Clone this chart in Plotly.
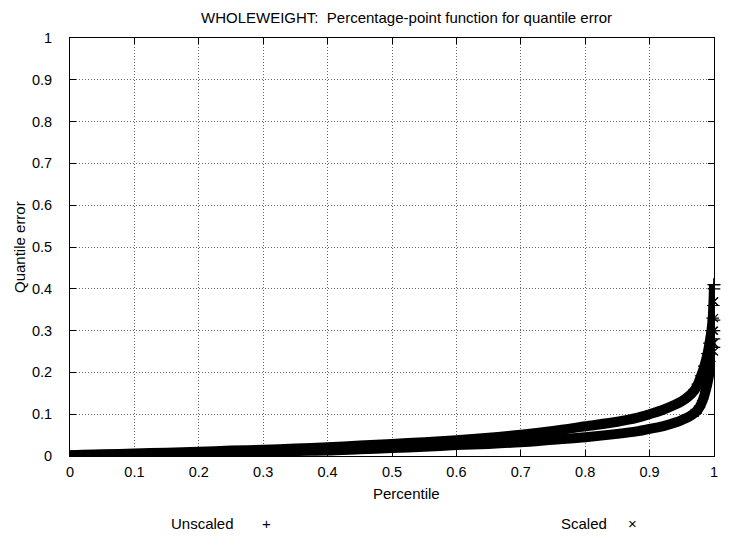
import plotly.graph_objects as go

# Percentile positions (x) shared by both series
pct = [0.0, 0.02, 0.05, 0.1, 0.15, 0.2, 0.25, 0.3, 0.35, 0.4, 0.45, 0.5, 0.55,
       0.6, 0.65, 0.7, 0.75, 0.8, 0.85, 0.88, 0.9, 0.92, 0.94, 0.95, 0.96,
       0.97, 0.975, 0.98, 0.985, 0.99, 0.993, 0.996, 0.998, 0.999, 1.0]

# Quantile error, Unscaled (upper curve)
unscaled = [0.002, 0.003, 0.004, 0.006, 0.008, 0.010, 0.013, 0.015, 0.018, 0.021,
            0.025, 0.029, 0.033, 0.038, 0.044, 0.051, 0.060, 0.071, 0.082, 0.091,
            0.100, 0.110, 0.123, 0.131, 0.142, 0.158, 0.172, 0.192, 0.215, 0.245,
            0.27, 0.30, 0.33, 0.36, 0.41]

# Quantile error, Scaled (lower curve)
scaled = [0.001, 0.001, 0.002, 0.003, 0.005, 0.006, 0.008, 0.010, 0.012, 0.013,
          0.016, 0.019, 0.022, 0.026, 0.029, 0.033, 0.039, 0.045, 0.053, 0.059,
          0.065, 0.071, 0.080, 0.086, 0.093, 0.103, 0.111, 0.124, 0.145, 0.175,
          0.20, 0.235, 0.27, 0.30, 0.37]

# Extreme values sitting at the 100th percentile
tail_x = 1.0
tail_unscaled = [0.26, 0.28, 0.30, 0.325, 0.40, 0.41]
tail_scaled = [0.25, 0.27, 0.30, 0.33, 0.37]

xticks = [0, 0.1, 0.2, 0.3, 0.4, 0.5, 0.6, 0.7, 0.8, 0.9, 1]
yticks = [0, 0.1, 0.2, 0.3, 0.4, 0.5, 0.6, 0.7, 0.8, 0.9, 1]

FONT = "Liberation Sans, Arial, Helvetica, sans-serif"
TXT = 15
TICK = 14.5
TAIL_FROM = 25  # index from which individual marks become visible

fig = go.Figure()

# thick bands formed by the dense points
fig.add_trace(go.Scatter(
    x=pct, y=unscaled, mode="lines", name="Unscaled",
    line=dict(color="black", width=10, shape="spline", smoothing=0.8),
    cliponaxis=False, showlegend=False))
fig.add_trace(go.Scatter(
    x=pct, y=scaled, mode="lines", name="Scaled",
    line=dict(color="black", width=10, shape="spline", smoothing=0.8),
    cliponaxis=False, showlegend=False))

# individual marks near the upper tail
fig.add_trace(go.Scatter(
    x=pct[TAIL_FROM:] + [tail_x] * len(tail_unscaled),
    y=unscaled[TAIL_FROM:] + tail_unscaled, mode="markers",
    marker=dict(symbol="cross-thin", size=9, line=dict(color="black", width=1.2)),
    cliponaxis=False, showlegend=False))
fig.add_trace(go.Scatter(
    x=pct[TAIL_FROM:] + [tail_x] * len(tail_scaled),
    y=scaled[TAIL_FROM:] + tail_scaled, mode="markers",
    marker=dict(symbol="x-thin", size=8, line=dict(color="black", width=1.2)),
    cliponaxis=False, showlegend=False))

axis_common = dict(
    showline=True, linecolor="black", linewidth=1, mirror="ticks",
    ticks="inside", ticklen=6, tickcolor="black", tickwidth=1,
    showgrid=True, gridcolor="#666666", griddash="1px,2px", gridwidth=1,
    zeroline=False, tickfont=dict(family=FONT, size=TICK, color="black"),
)

fig.update_xaxes(range=[0, 1], tickvals=xticks, ticktext=[str(v) for v in xticks],
                 ticklabelstandoff=3, **axis_common)
fig.update_yaxes(range=[0, 1], tickvals=yticks, ticktext=[str(v) for v in yticks],
                 ticklabelstandoff=14, **axis_common)

def txt(text, x, y, xshift=0, yshift=0, xanchor="center", angle=0):
    return dict(text=text, xref="paper", yref="paper", x=x, y=y,
                xshift=xshift, yshift=yshift, textangle=angle,
                showarrow=False, xanchor=xanchor, yanchor="middle",
                font=dict(family=FONT, size=TXT, color="black"))

annotations = [
    txt("WHOLEWEIGHT:  Percentage-point function for quantile error", 0.523, 1.0, yshift=21),
    txt("Percentile", 0.523, 0, yshift=-37),
    txt("Quantile error", 0, 0.5, xshift=-51, angle=-90),
    txt("Unscaled", (236 - 70) / 644, 0, yshift=-67, xanchor="right"),
    txt("+", (266 - 70) / 644, 0, yshift=-67),
    txt("Scaled", (609 - 70) / 644, 0, yshift=-67, xanchor="right"),
    txt("×", (632 - 70) / 644, 0, yshift=-67),
]

# page body has an 8px default margin; compensate so the plot sits like the reference
fig.update_layout(
    width=729, height=528,
    margin=dict(l=62, r=23, t=30, b=80),
    paper_bgcolor="white", plot_bgcolor="white",
    annotations=annotations,
    font=dict(family=FONT, size=TXT, color="black"),
)

fig.write_html("out.html")
